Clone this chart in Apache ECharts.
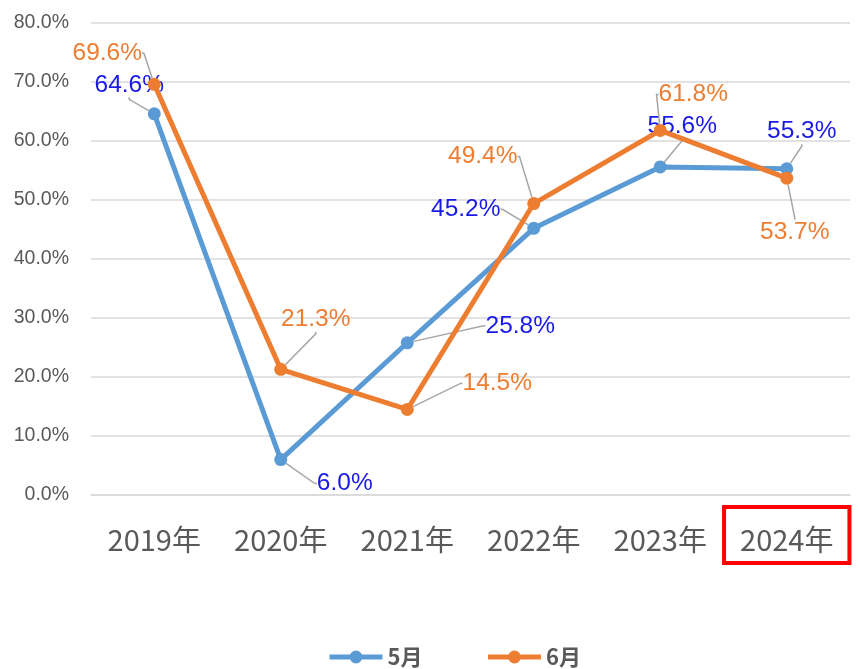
<!DOCTYPE html>
<html>
<head>
<meta charset="utf-8">
<script src="https://cdn.jsdelivr.net/npm/echarts@6/dist/echarts.min.js"></script>
<style>
html,body{margin:0;padding:0;background:#fff;}
#main{width:860px;height:669px;}
</style>
</head>
<body>
<div id="main"></div>
<script>
// 年別データ
var years = ['2019年', '2020年', '2021年', '2022年', '2023年', '2024年'];
var may = [64.6, 6.0, 25.8, 45.2, 55.6, 55.3];
var june = [69.6, 21.3, 14.5, 49.4, 61.8, 53.7];
var yTicks = [0, 10, 20, 30, 40, 50, 60, 70, 80];

// ラベルのずらし量 (dx, dy)
var mayShift = [[-25, -29], [64, 24], [113, -17], [-68, -19], [22, -41], [15, -37]];
var juneShift = [[-47, -31], [35, -50], [90, -26], [-51, -47], [33, -36], [8, 54]];

var chart = echarts.init(document.getElementById('main'));

function makeSeries(name, data, color, labelColor, shift) {
    return {
        name: name,
        type: 'line',
        data: data,
        symbol: 'circle',
        symbolSize: 13,
        lineStyle: {width: 5, color: color},
        itemStyle: {color: color},
        label: {
            show: true,
            position: 'inside',
            color: labelColor,
            fontSize: 24.5,
            fontFamily: 'Liberation Sans, Arial',
            formatter: function (p) {
                return p.value.toFixed(1) + '%';
            }
        },
        labelLine: {
            show: true,
            length2: 2,
            lineStyle: {color: '#a6a6a6', width: 1.5}
        },
        labelLayout: function (p) {
            var s = shift[p.dataIndex];
            return {dx: s[0], dy: s[1]};
        },
        z: name === '6月' ? 3 : 2
    };
}

var option = {
    animation: false,
    backgroundColor: '#fff',
    grid: {left: 91, right: 10, top: 23, bottom: 174},
    legend: {
        left: 322,
        top: 641,
        itemWidth: 53,
        itemHeight: 16,
        itemGap: 63,
        lineStyle: {width: 5},
        textStyle: {fontSize: 22, fontWeight: 'bold', color: '#595959', fontFamily: 'Noto Sans CJK JP'},
        data: ['5月', '6月']
    },
    xAxis: {
        type: 'category',
        data: years,
        axisLine: {show: true, lineStyle: {color: '#d9d9d9', width: 1.5}},
        axisTick: {show: false},
        axisLabel: {
            margin: 12,
            interval: 0,
            formatter: function (v) {
                return v === '2024年' ? '{hl|' + v + '}' : '{n|' + v + '}';
            },
            rich: {
                n: {
                    fontSize: 29, color: '#595959', fontFamily: 'Noto Sans CJK JP',
                    padding: [18, 16, 9, 16]
                },
                hl: {
                    fontSize: 29, color: '#595959', fontFamily: 'Noto Sans CJK JP',
                    padding: [18, 16, 9, 16],
                    borderColor: '#ff0000', borderWidth: 4
                }
            }
        }
    },
    yAxis: {
        type: 'value',
        min: yTicks[0],
        max: yTicks[yTicks.length - 1],
        interval: 10,
        axisLine: {show: false},
        axisTick: {show: false},
        splitLine: {lineStyle: {color: '#d9d9d9', width: 1.5}},
        axisLabel: {
            margin: 22,
            fontSize: 19.5,
            color: '#595959',
            fontFamily: 'Liberation Sans, Arial',
            formatter: function (v) {
                return v.toFixed(1) + '%';
            }
        }
    },
    series: [
        makeSeries('5月', may, '#5b9bd5', '#1a1ae6', mayShift),
        makeSeries('6月', june, '#ed7d31', '#ed7d31', juneShift)
    ]
};

chart.setOption(option);
</script>
</body>
</html>
